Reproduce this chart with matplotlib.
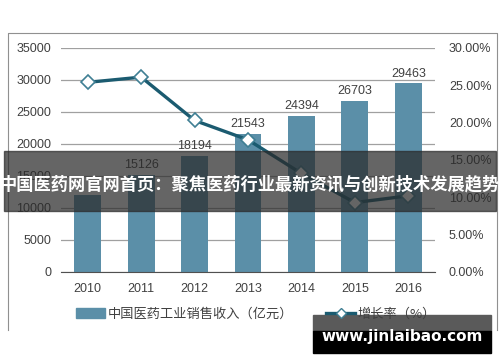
import matplotlib.pyplot as plt
import matplotlib.patches as mpatches
from matplotlib.lines import Line2D

plt.rcParams['font.family'] = ['Noto Sans CJK SC', 'DejaVu Sans']

years = ["2010", "2011", "2012", "2013", "2014", "2015", "2016"]
revenue = [12000, 15126, 18194, 21543, 24394, 26703, 29463]
growth = [25.4, 26.1, 20.3, 17.7, 13.2, 9.3, 10.2]
bar_labels = ["", "15126", "18194", "21543", "24394", "26703", "29463"]

W, H = 500, 362
fig = plt.figure(figsize=(W / 100, H / 100), dpi=100)
fig.patch.set_facecolor("white")

# plot area in pixel coords
left, right, top, bottom = 61, 435, 48, 272
ax = fig.add_axes([left / W, 1 - bottom / H, (right - left) / W, (bottom - top) / H])
ax2 = ax.twinx()

x = range(len(years))
ax.bar(x, revenue, width=0.5, color="#5b8fa8", zorder=2)
for i, lab in enumerate(bar_labels):
    if lab:
        ax.text(i, revenue[i] + 600, lab, ha="center", va="bottom", fontsize=9,
                color="#404040", family="Liberation Sans")

ax.set_ylim(0, 35000)
ax.set_xlim(-0.5, len(years) - 0.5)
ax.set_yticks(range(0, 35001, 5000))
ax.set_xticks(list(x))
ax.set_xticklabels(years)
ax.grid(axis="y", color="#a0a0a0", lw=0.9, zorder=0)
ax.set_axisbelow(True)

ax2.plot(list(x), growth, color="#1b5b70", lw=2.4, marker="D", markersize=7,
         markerfacecolor="white", markeredgecolor="#3f7f93", markeredgewidth=1.2, zorder=5)
ax2.set_ylim(0, 30)
ax2.set_yticks(range(0, 31, 5))
ax2.set_yticklabels([f"{v:.2f}%" for v in range(0, 31, 5)])

for a in (ax, ax2):
    for s in a.spines.values():
        s.set_visible(False)
    a.tick_params(length=0, labelsize=9, colors="#404040")
    for t in a.get_xticklabels() + a.get_yticklabels():
        t.set_family("Liberation Sans")
ax.spines["bottom"].set_visible(True)
ax.spines["bottom"].set_color("#505050")
ax.tick_params(axis="y", pad=7)
ax.tick_params(axis="x", pad=8)
ax2.tick_params(axis="y", pad=10)

# outer frame
fo = fig.add_axes([0, 0, 1, 1], facecolor="none")
fo.set_xlim(0, W)
fo.set_ylim(H, 0)
fo.axis("off")
fo.plot([8, 8, 497, 497], [330, 33, 33, 330], color="#909090", lw=0.8)

# legend
handles = [mpatches.Patch(color="#5b8fa8"),
           Line2D([], [], color="#1b5b70", lw=2.4, marker="D", markersize=5,
                  markerfacecolor="white", markeredgecolor="#3f7f93")]
fig.legend(handles, ["中国医药工业销售收入（亿元）", "增长率（%）"], loc="center",
           bbox_to_anchor=(256 / W, 1 - 314 / H), ncol=2, frameon=False, fontsize=9.5,
           handlelength=2.2, handletextpad=0.2, columnspacing=2.5, labelcolor="#404040")

# banner overlay
fo.add_patch(mpatches.Rectangle((4, 151), 492, 60, color="#2a2a2a", alpha=0.72, zorder=10))
fo.text(250, 184, "中国医药网官网首页：聚焦医药行业最新资讯与创新技术发展趋势", ha="center",
        va="center", fontsize=12.4, color="white", fontweight="bold", zorder=11)

# watermark
fo.add_patch(mpatches.Rectangle((313, 315), 178, 16, color="#5a5a5a", zorder=10))
fo.add_patch(mpatches.Rectangle((313, 331), 178, 22, color="black", zorder=10))
fo.text(402, 337, "www.jinlaibao.com", ha="center", va="center", fontsize=11,
        color="white", fontweight="bold", family="DejaVu Sans", zorder=11)

fig.savefig("out.png", dpi=100)
